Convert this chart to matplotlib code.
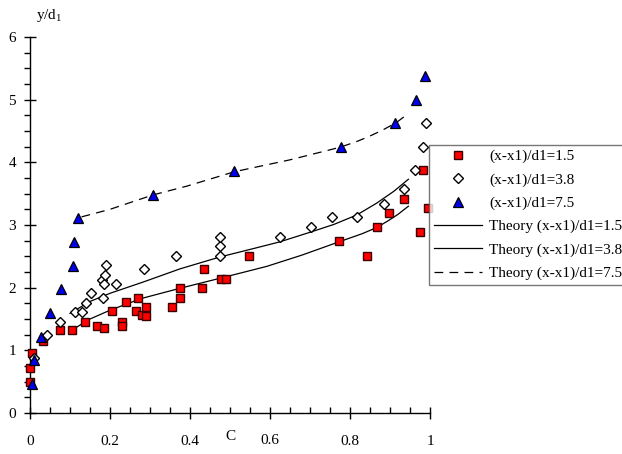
import matplotlib
matplotlib.use("Agg")
import matplotlib.pyplot as plt
from matplotlib.ticker import MultipleLocator
from matplotlib.lines import Line2D

plt.rcParams['font.family'] = ['Liberation Serif', 'DejaVu Serif']
plt.rcParams['mathtext.fontset'] = 'custom'
plt.rcParams['mathtext.rm'] = 'Liberation Serif'
plt.rcParams['mathtext.it'] = 'Liberation Serif'

# Measured data: (x-x1)/d1 = 1.5
c15 = [0.0, 0.0, 0.004, 0.032, 0.075, 0.105, 0.1375, 0.1675, 0.186, 0.205, 0.23, 0.23,
       0.241, 0.265, 0.271, 0.281, 0.289, 0.29, 0.356, 0.375, 0.375, 0.429, 0.436,
       0.477, 0.49, 0.5475, 0.772, 0.843, 0.8675, 0.897, 0.936, 0.975, 0.983, 0.994]
y15 = [0.5, 0.72, 0.95, 1.15, 1.32, 1.32, 1.46, 1.39, 1.36, 1.62, 1.46, 1.39,
       1.77, 1.62, 1.84, 1.57, 1.55, 1.69, 1.69, 1.84, 1.99, 1.99, 2.29,
       2.14, 2.14, 2.51, 2.74, 2.51, 2.97, 3.19, 3.42, 2.89, 3.87, 3.27]

# Measured data: (x-x1)/d1 = 3.8
c38 = [0.011, 0.042, 0.076, 0.1125, 0.13, 0.139, 0.153, 0.183, 0.181, 0.186, 0.188, 0.19,
       0.216, 0.284, 0.365, 0.475, 0.475, 0.475, 0.624, 0.703, 0.754, 0.8175, 0.886,
       0.934, 0.962, 0.983, 0.991]
y38 = [0.87, 1.24, 1.46, 1.61, 1.61, 1.76, 1.91, 1.84, 2.13, 2.06, 2.21, 2.36,
       2.06, 2.29, 2.51, 2.51, 2.66, 2.81, 2.81, 2.97, 3.12, 3.12, 3.34,
       3.57, 3.87, 4.25, 4.62]

# Measured data: (x-x1)/d1 = 7.5
c75 = [0.004, 0.01, 0.0275, 0.05, 0.078, 0.108, 0.111, 0.12, 0.3075, 0.511, 0.778,
       0.9125, 0.964, 0.9875]
y75 = [0.46, 0.84, 1.22, 1.59, 1.98, 2.35, 2.73, 3.11, 3.48, 3.86, 4.25,
       4.62, 5.00, 5.38]

# Theory curves
tc15 = [0.104, 0.15, 0.2, 0.28, 0.375, 0.475, 0.592, 0.68, 0.772, 0.83, 0.867, 0.896, 0.92, 0.946]
ty15 = [1.32, 1.50, 1.64, 1.83, 1.99, 2.15, 2.34, 2.52, 2.73, 2.86, 2.96, 3.07, 3.17, 3.30]
tc38 = [0.10, 0.15, 0.2, 0.283, 0.375, 0.475, 0.55, 0.624, 0.703, 0.76, 0.817, 0.867, 0.91, 0.946]
ty38 = [1.59, 1.78, 1.91, 2.09, 2.30, 2.49, 2.61, 2.73, 2.89, 3.01, 3.16, 3.35, 3.54, 3.73]
tc75 = [0.129, 0.2, 0.3075, 0.392, 0.511, 0.65, 0.775, 0.82, 0.85, 0.88, 0.915, 0.946]
ty75 = [3.13, 3.25, 3.48, 3.62, 3.85, 4.04, 4.24, 4.34, 4.42, 4.51, 4.63, 4.78]

xticks = [0, 0.2, 0.4, 0.6, 0.8, 1]
xticklabels = ['0', '0.2', '0.4', '', '0.8', '1']
yticks = [0, 1, 2, 3, 4, 5, 6]

W, H = 622, 454
fig = plt.figure(figsize=(W / 100, H / 100), dpi=100)
ax = fig.add_axes([30 / W, (H - 413) / H, 400 / W, 376 / H])

fs = 11
ax.plot(tc15, ty15, color='black', lw=0.9)
ax.plot(tc38, ty38, color='black', lw=0.9)
ax.plot(tc75, ty75, color='black', lw=0.9, dashes=(7, 5))

ax.plot(c15, y15, ls='none', marker='s', ms=6.3, mfc='#ff0000', mec='#3a0000', mew=1.0, clip_on=False, zorder=3)
ax.plot(c38, y38, ls='none', marker='D', ms=5.2, mfc='white', mec='black', mew=1.0, clip_on=False, zorder=3)
ax.plot(c75, y75, ls='none', marker='^', ms=7, mfc='#0000ee', mec='black', mew=0.9, clip_on=False, zorder=4)

ax.set_xlim(0, 1)
ax.set_ylim(0, 6)
for s in ['top', 'right']:
    ax.spines[s].set_visible(False)
for s in ['left', 'bottom']:
    ax.spines[s].set_linewidth(1.0)

ax.set_xticks(xticks)
ax.set_xticklabels(xticklabels, fontsize=fs)
ax.xaxis.set_minor_locator(MultipleLocator(0.05))
ax.yaxis.set_minor_locator(MultipleLocator(0.25))
ax.set_yticks(yticks)
ax.set_yticklabels([str(v) for v in yticks], fontsize=fs)
ax.tick_params(axis='x', which='major', direction='inout', length=8, width=1, pad=12)
ax.tick_params(axis='x', which='minor', direction='in', length=4, width=1)
ax.tick_params(axis='y', which='major', direction='inout', length=8, width=1, pad=6)
ax.tick_params(axis='y', which='minor', direction='out', length=4, width=1)

# x tick label 0.6 placed next to the axis title "C"
fig.text((30 + 0.6 * 400) / W, 1 - 440 / H, '0.6', ha='center', va='center', fontsize=fs)
fig.text(230 / W, 1 - 436 / H, 'C', ha='center', va='center', fontsize=fs)
fig.text(36 / W, 1 - 16 / H, r'y/d$_1$', ha='left', va='center', fontsize=fs)

handles = [
    Line2D([], [], ls='none', marker='s', ms=6.3, mfc='#ff0000', mec='#3a0000', mew=1.0),
    Line2D([], [], ls='none', marker='D', ms=5.2, mfc='white', mec='black', mew=1.0),
    Line2D([], [], ls='none', marker='^', ms=7, mfc='#0000ee', mec='black', mew=0.9),
    Line2D([], [], color='black', lw=0.9),
    Line2D([], [], color='black', lw=0.9),
    Line2D([], [], color='black', lw=0.9, dashes=(7, 5)),
]
labels = ['(x-x1)/d1=1.5', '(x-x1)/d1=3.8', '(x-x1)/d1=7.5',
          'Theory (x-x1)/d1=1.5', 'Theory (x-x1)/d1=3.8', 'Theory (x-x1)/d1=7.5']
leg = fig.legend(handles, labels, loc='upper left', bbox_to_anchor=(429 / W, 1 - 145 / H),
                 fontsize=fs, frameon=True, fancybox=False, edgecolor='#555555',
                 borderpad=0.3, labelspacing=0.62, handlelength=3.2, handletextpad=0.45,
                 borderaxespad=0)
leg.get_frame().set_linewidth(1.0)

fig.savefig('out.png', dpi=100)
